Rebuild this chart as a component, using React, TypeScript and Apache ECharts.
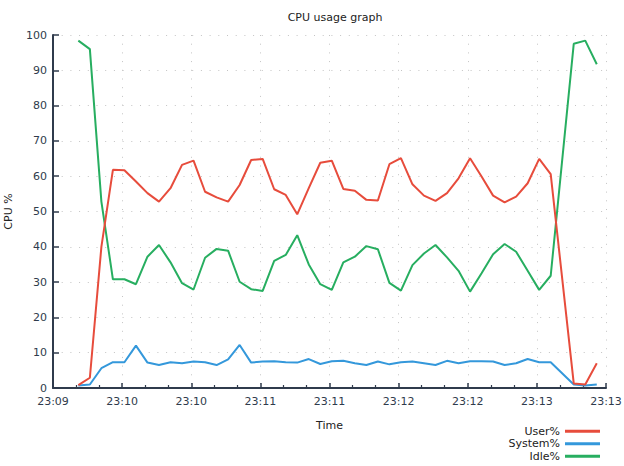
import React, { useEffect, useRef } from "react";
import * as echarts from "echarts";

// seconds after axis start (23:09:30); one sample (t=221) is absent
const times = [
  11, 16, 21, 26, 31, 36, 41, 46, 51, 56,
  61, 66, 71, 76, 81, 86, 91, 96, 101, 106,
  111, 116, 121, 126, 131, 136, 141, 146, 151, 156,
  161, 166, 171, 176, 181, 186, 191, 196, 201, 206,
  211, 216, 226, 231, 236,
];

const userPct = [
  0.8, 2.9, 40.0, 61.8, 61.7, 58.5, 55.2, 52.8, 56.6, 63.2,
  64.4, 55.6, 54.0, 52.8, 57.5, 64.6, 64.9, 56.3, 54.7, 49.2,
  56.6, 63.8, 64.4, 56.4, 55.9, 53.3, 53.1, 63.4, 65.1, 57.7,
  54.5, 53.0, 55.2, 59.4, 65.1, 59.9, 54.5, 52.6, 54.2, 58.0,
  64.9, 60.6, 1.3, 1.0, 7.0,
];

const systemPct = [
  0.7, 1.0, 5.6, 7.3, 7.3, 12.0, 7.2, 6.5, 7.3, 7.0,
  7.5, 7.3, 6.5, 8.1, 12.2, 7.2, 7.5, 7.6, 7.3, 7.2,
  8.2, 6.8, 7.6, 7.7, 7.0, 6.5, 7.5, 6.7, 7.3, 7.5,
  7.0, 6.5, 7.7, 7.0, 7.6, 7.6, 7.5, 6.5, 7.0, 8.2,
  7.3, 7.3, 1.0, 0.7, 1.0,
];

const idlePct = [
  98.4, 96.0, 52.8, 30.8, 30.8, 29.4, 37.2, 40.5, 35.6, 29.7,
  27.9, 36.9, 39.4, 38.9, 30.1, 28.0, 27.5, 36.0, 37.7, 43.3,
  35.0, 29.4, 27.8, 35.6, 37.2, 40.2, 39.3, 29.8, 27.6, 34.8,
  38.1, 40.5, 37.0, 33.2, 27.3, 32.5, 37.9, 40.8, 38.6, 33.2,
  27.8, 31.8, 97.5, 98.4, 91.7,
];

const xTickLabels = [
  "23:09", "23:10", "23:10", "23:11", "23:11", "23:12", "23:12", "23:13", "23:13",
];

const seriesNames = ["User%", "System%", "Idle%"];
const seriesColors = ["#e74c3c", "#3498db", "#27ae60"];

const FONT = "DejaVu Sans";
const AXIS_COLOR = "#2f3b4c";
const TEXT_COLOR = "#2f3b4c";

export default function App() {
  const ref = useRef<HTMLDivElement>(null);

  useEffect(() => {
    if (!ref.current) return;
    const chart = echarts.init(ref.current, undefined, { renderer: "svg" });
    const values = [userPct, systemPct, idlePct];
    const dotted = { color: "#c4c4c4", width: 1, type: [1, 7.7] as number[] };

    chart.setOption({
      animation: false,
      backgroundColor: "#ffffff",
      textStyle: { fontFamily: FONT },
      title: {
        text: "CPU usage graph",
        left: 330,
        textAlign: "center",
        top: 7,
        textStyle: { fontSize: 11, fontWeight: "normal", color: "#222", fontFamily: FONT },
      },
      grid: {
        left: 53,
        right: 18,
        top: 35,
        bottom: 78,
        containLabel: false,
        outerBoundsMode: "none",
      },
      legend: {
        orient: "vertical",
        right: 24,
        top: 425,
        height: 80,
        align: "right",
        itemGap: 0,
        itemWidth: 35,
        itemHeight: 3,
        icon: "rect",
        padding: 0,
        textStyle: { fontSize: 11, lineHeight: 12.5, height: 12.5, color: "#222", fontFamily: FONT },
        data: seriesNames,
      },
      xAxis: {
        type: "value",
        min: 0,
        max: 240,
        interval: 30,
        name: "Time",
        nameLocation: "middle",
        nameGap: 32,
        nameTextStyle: { fontSize: 11, color: "#222", fontFamily: FONT },
        axisLine: { show: true, onZero: false, lineStyle: { color: AXIS_COLOR, width: 2 } },
        axisTick: { show: true, inside: true, length: 5, lineStyle: { color: AXIS_COLOR, width: 1.5 } },
        minorTick: { show: true, splitNumber: 3, length: 3, lineStyle: { color: AXIS_COLOR, width: 1.2 } },
        axisLabel: {
          fontSize: 11,
          color: TEXT_COLOR,
          fontFamily: FONT,
          margin: 8,
          formatter: (v: number) => xTickLabels[Math.round(v / 30)] ?? "",
        },
        splitLine: { show: true, lineStyle: dotted },
      },
      yAxis: {
        type: "value",
        min: 0,
        max: 100,
        interval: 10,
        name: "CPU %",
        nameLocation: "middle",
        nameGap: 39,
        nameRotate: 90,
        nameTextStyle: { fontSize: 11, color: "#222", fontFamily: FONT },
        axisLine: { show: true, lineStyle: { color: AXIS_COLOR, width: 2 } },
        axisTick: { show: true, inside: true, length: 6, lineStyle: { color: AXIS_COLOR, width: 1.5 } },
        axisLabel: { fontSize: 11, color: TEXT_COLOR, fontFamily: FONT, margin: 6 },
        splitLine: { show: true, lineStyle: dotted },
      },
      series: seriesNames.map((name, i) => ({
        name,
        type: "line",
        data: times.map((t, j) => [t, values[i][j]]),
        showSymbol: false,
        symbol: "none",
        lineStyle: { color: seriesColors[i], width: 2 },
        itemStyle: { color: seriesColors[i] },
        z: 3 - i,
      })),
    });

    return () => chart.dispose();
  }, []);

  return (
    <div
      ref={ref}
      style={{ position: "fixed", left: 0, top: 0, width: 624, height: 466 }}
    />
  );
}
